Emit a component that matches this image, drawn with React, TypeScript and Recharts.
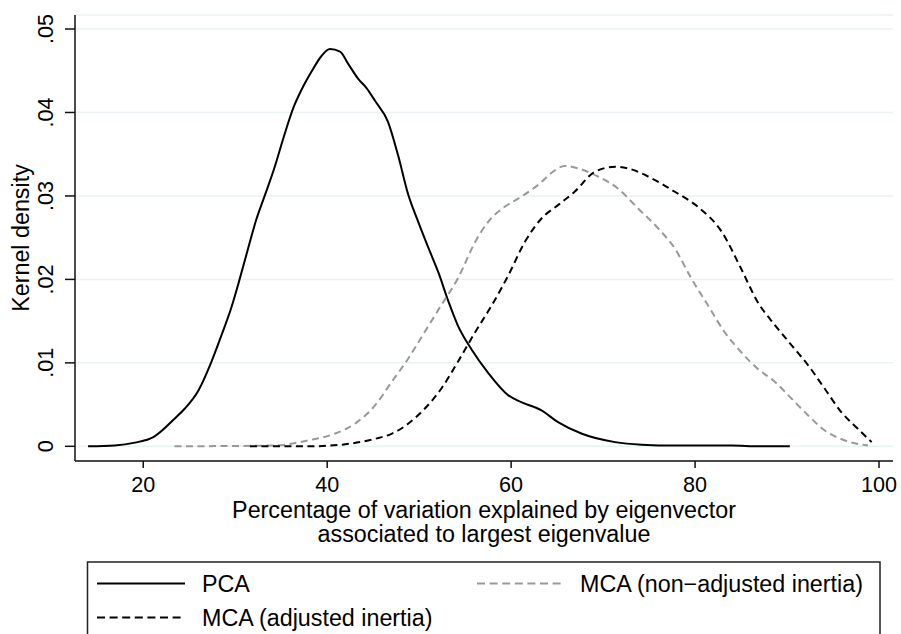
import React from 'react';
import { LineChart, Line, XAxis, YAxis, CartesianGrid, Label } from 'recharts';

const pcaX = [14.0, 16.9, 19.1, 21.1, 23.4, 24.5, 26.0, 27.4, 28.5, 29.6, 30.4, 31.4, 32.3, 33.2, 34.3, 35.2, 36.3, 37.2, 38.3, 39.4, 40.3, 41.4, 42.3, 43.4, 44.3, 45.2, 46.6, 47.7, 48.8, 49.9, 51.0, 52.1, 53.2, 54.2, 55.7, 57.5, 59.7, 61.1, 63.3, 65.1, 67.7, 71.3, 74.2, 77.8, 81.0, 84.0, 87.0, 90.3];
const pcaY = [0, 0.0001, 0.00044, 0.0011, 0.0033, 0.0045, 0.0067, 0.0101, 0.0133, 0.0167, 0.0197, 0.0237, 0.0272, 0.0300, 0.0335, 0.0368, 0.0405, 0.0427, 0.0449, 0.0468, 0.0476, 0.0473, 0.0458, 0.0440, 0.0429, 0.0414, 0.0389, 0.0349, 0.0302, 0.0269, 0.0238, 0.0208, 0.0173, 0.0145, 0.0116, 0.0088, 0.0061, 0.0053, 0.0043, 0.0029, 0.0015, 0.0005, 0.0002, 0.0001, 0.0001, 0.0001, 0.0, 0];

const nonAdjX = [23.4, 34.3, 37.9, 40.8, 43.0, 45.2, 47.0, 48.8, 50.6, 52.4, 54.2, 56.1, 57.5, 59.3, 61.1, 62.9, 64.8, 65.8, 67.3, 69.5, 71.6, 73.8, 76.0, 77.8, 79.6, 81.4, 83.2, 85.0, 86.8, 88.7, 90.5, 92.3, 94.1, 96.3, 98.8];
const nonAdjY = [0, 0.0001, 0.0007, 0.0015, 0.0027, 0.0049, 0.0077, 0.0105, 0.0137, 0.0169, 0.0201, 0.0245, 0.0269, 0.0287, 0.0299, 0.0313, 0.0331, 0.0336, 0.0333, 0.0323, 0.0309, 0.0285, 0.0261, 0.0237, 0.0201, 0.0169, 0.0137, 0.0113, 0.0093, 0.0077, 0.0057, 0.0037, 0.0019, 0.0007, 0.0001];

const adjX = [31.6, 37.9, 41.6, 45.2, 47.0, 48.8, 50.6, 52.4, 54.2, 56.1, 57.9, 59.7, 61.5, 63.3, 65.1, 66.9, 69.1, 71.3, 72.7, 75.3, 77.8, 80.3, 82.9, 85.0, 86.8, 88.7, 90.5, 92.3, 94.1, 95.9, 97.7, 99.2];
const adjY = [0, 0, 0.0002, 0.0009, 0.0015, 0.0027, 0.0045, 0.0069, 0.0101, 0.0137, 0.0169, 0.0205, 0.0245, 0.0273, 0.0289, 0.0305, 0.0329, 0.0335, 0.0333, 0.0321, 0.0305, 0.0287, 0.0257, 0.0213, 0.0173, 0.0145, 0.0121, 0.0097, 0.0069, 0.0041, 0.0021, 0.0005];

const xTicks = [20, 40, 60, 80, 100];
const yTicks = [0, 0.01, 0.02, 0.03, 0.04, 0.05];
const yTickLabels = ['0', '.01', '.02', '.03', '.04', '.05'];

const xTitle1 = 'Percentage of variation explained by eigenvector';
const xTitle2 = 'associated to largest eigenvalue';
const yTitle = 'Kernel density';
const seriesNames = ['PCA', 'MCA (non\u2212adjusted inertia)', 'MCA (adjusted inertia)'];

const zip = (xs: number[], ys: number[]) => xs.map((x, i) => ({ x, y: ys[i] }));
const pcaData = zip(pcaX, pcaY);
const nonAdjData = zip(nonAdjX, nonAdjY);
const adjData = zip(adjX, adjY);

const FONT = '"Liberation Sans", Arial, Helvetica, sans-serif';

const YTick = (props: any) => {
  const { y, payload } = props;
  const idx = yTicks.indexOf(payload.value);
  const label = idx >= 0 ? yTickLabels[idx] : String(payload.value);
  const tx = 53;
  return (
    <text x={tx} y={y} transform={`rotate(-90, ${tx}, ${y})`} textAnchor="middle" fontSize={21.6} fontFamily={FONT} fill="#000">
      {label}
    </text>
  );
};

const XTick = (props: any) => {
  const { x, payload } = props;
  return (
    <text x={x} y={492} textAnchor="middle" fontSize={21.6} fontFamily={FONT} fill="#000">
      {payload.value}
    </text>
  );
};

const XTitle = (props: any) => {
  const vb = props.viewBox || { x: 75, width: 818 };
  const cx = vb.x + vb.width / 2;
  return (
    <g>
      <text x={cx} y={518} textAnchor="middle" fontSize={23.3} fontFamily={FONT} fill="#000">{xTitle1}</text>
      <text x={cx} y={542} textAnchor="middle" fontSize={23.3} fontFamily={FONT} fill="#000">{xTitle2}</text>
    </g>
  );
};

const YTitle = (props: any) => {
  const vb = props.viewBox || { y: 15, height: 446 };
  const cy = vb.y + vb.height / 2;
  const tx = 29;
  return (
    <text x={tx} y={cy} transform={`rotate(-90, ${tx}, ${cy})`} textAnchor="middle" fontSize={23.3} fontFamily={FONT} fill="#000">
      {yTitle}
    </text>
  );
};

const LegendBox = () => (
  <svg width={901} height={634} style={{ position: 'absolute', left: 0, top: 0, pointerEvents: 'none' }}>
    <rect x={87.5} y={562} width={792.5} height={100} fill="none" stroke="#222" strokeWidth={1.5} />
    <line x1={97} y1={583.5} x2={185} y2={583.5} stroke="#000" strokeWidth={2} />
    <text x={202} y={592.3} fontSize={23.3} fontFamily={FONT} fill="#000">{seriesNames[0]}</text>
    <line x1={477} y1={583.5} x2={565} y2={583.5} stroke="#999" strokeWidth={2} strokeDasharray="8 4.6" />
    <text x={580} y={592.3} fontSize={23.3} fontFamily={FONT} fill="#000">{seriesNames[1]}</text>
    <line x1={97} y1={617.5} x2={185} y2={617.5} stroke="#000" strokeWidth={2} strokeDasharray="8 4.6" />
    <text x={202} y={625.5} fontSize={23.3} fontFamily={FONT} fill="#000">{seriesNames[2]}</text>
  </svg>
);

export default function App() {
  return (
    <div style={{ position: 'absolute', left: 0, top: 0, width: 901, height: 634, overflow: 'hidden', background: '#fff' }}>
      <LineChart width={901} height={634} margin={{ top: 15, right: 8, bottom: 113, left: 15 }}>
        <CartesianGrid vertical={false} stroke="#eaf2f3" strokeWidth={1.5} />
        <XAxis
          type="number"
          dataKey="x"
          domain={[12.58, 101.52]}
          ticks={xTicks}
          allowDataOverflow
          height={60}
          tickSize={7}
          tick={<XTick />}
          axisLine={{ stroke: '#111', strokeWidth: 1.5 }}
          tickLine={{ stroke: '#111', strokeWidth: 1.5 }}
        >
          <Label content={<XTitle />} />
        </XAxis>
        <YAxis
          type="number"
          domain={[-0.00176, 0.05168]}
          ticks={yTicks}
          allowDataOverflow
          width={60}
          tickSize={10}
          tick={<YTick />}
          axisLine={{ stroke: '#111', strokeWidth: 1.5 }}
          tickLine={{ stroke: '#111', strokeWidth: 1.5 }}
        >
          <Label content={<YTitle />} />
        </YAxis>
        <Line data={pcaData} dataKey="y" type="monotone" stroke="#000" strokeWidth={2} dot={false} isAnimationActive={false} name={seriesNames[0]} />
        <Line data={nonAdjData} dataKey="y" type="monotone" stroke="#999" strokeWidth={2} strokeDasharray="7 4.5" dot={false} isAnimationActive={false} name={seriesNames[1]} />
        <Line data={adjData} dataKey="y" type="monotone" stroke="#000" strokeWidth={2} strokeDasharray="7 4.5" dot={false} isAnimationActive={false} name={seriesNames[2]} />
      </LineChart>
      <LegendBox />
    </div>
  );
}
